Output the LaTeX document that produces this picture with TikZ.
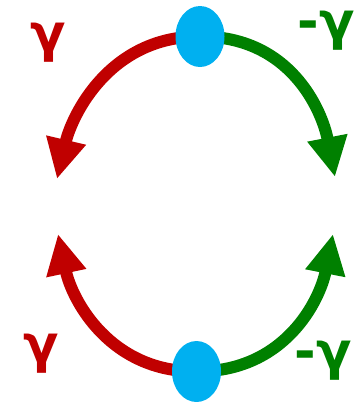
\documentclass[tikz,border=0pt]{standalone}
\usepackage{fontspec}
\newfontfamily\gfont{DejaVu Sans}
\usetikzlibrary{arrows.meta,shapes.geometric}
\definecolor{cred}{RGB}{192,0,0}
\definecolor{cgreen}{RGB}{0,128,0}
\definecolor{cblue}{RGB}{0,176,240}
\begin{document}
\begin{tikzpicture}[x=1pt,y=-1pt,
  arc/.style={line width=12pt,-{Triangle[length=40pt,width=38pt]}},
  dot/.style={ellipse,fill=cblue,minimum width=49pt,minimum height=61pt,inner sep=0pt},
  lbl/.style={font=\gfont\bfseries\fontsize{52}{52}\selectfont,inner sep=0pt}]
\useasboundingbox (0,0) rectangle (360,402);
\coordinate (tl) at (57,179);
\coordinate (tr) at (335,177);
\coordinate (bl) at (58,234);
\coordinate (br) at (333,234);
\coordinate (tc) at (200,36.5);
\coordinate (bc) at (196.5,371.5);
\draw[arc,cred] (tc) .. controls (110,36) and (72,115) .. (tl);
\draw[arc,cgreen] (tc) .. controls (290,36) and (322,110) .. (tr);
\draw[arc,cred] (bc) .. controls (110,372) and (72,300) .. (bl);
\draw[arc,cgreen] (bc) .. controls (285,372) and (320,300) .. (br);
\node[dot] (top) at (tc) {};
\node[dot] (bot) at (bc) {};
\node[lbl,text=cred] (g1) at (48,43) {γ};
\node[lbl,text=cgreen,anchor=east] (g2) at (355,31) {-γ};
\node[lbl,text=cred] (g3) at (41,354) {γ};
\node[lbl,text=cgreen,anchor=east] (g4) at (352,361) {-γ};
\end{tikzpicture}
\end{document}
